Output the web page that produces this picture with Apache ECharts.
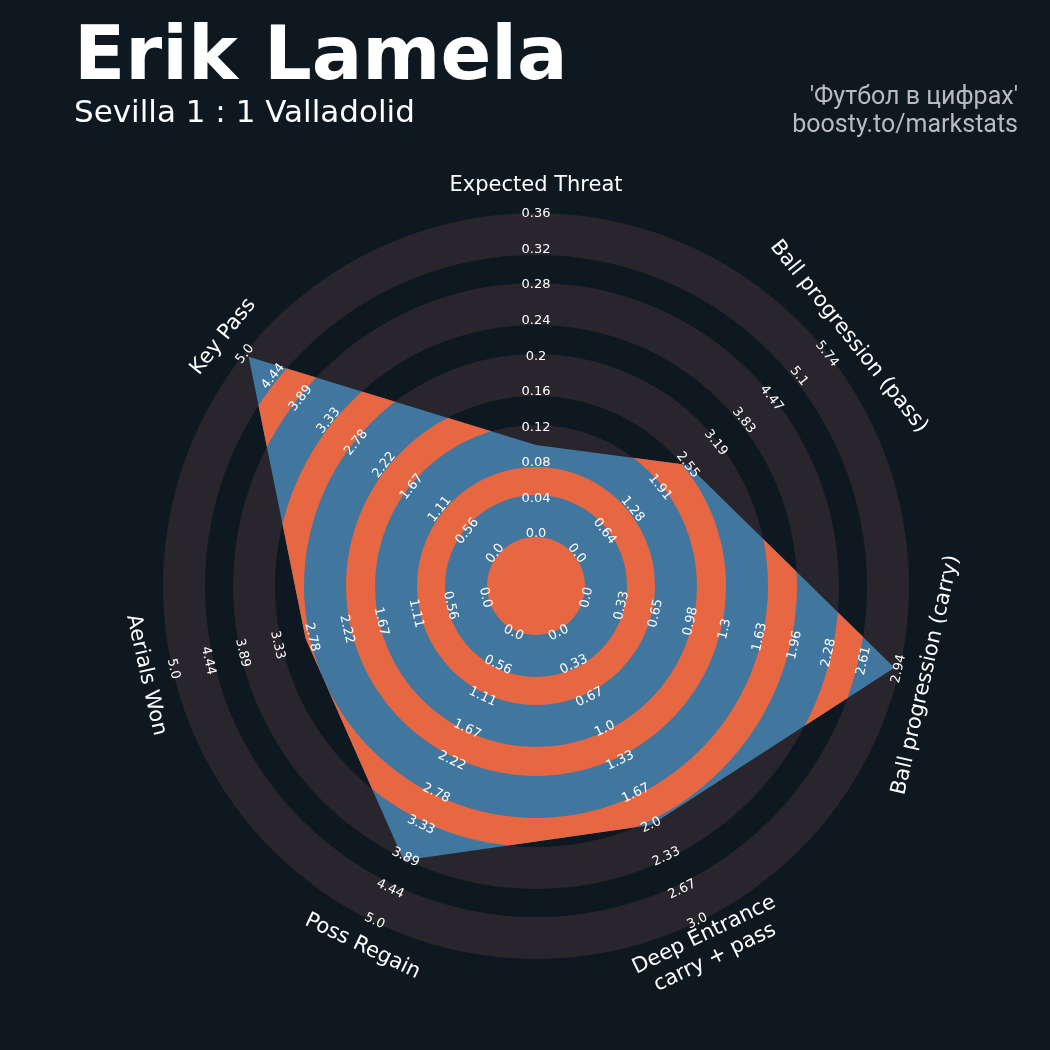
<!DOCTYPE html>
<html>
<head>
<meta charset="utf-8">
<script src="https://cdn.jsdelivr.net/npm/echarts@6/dist/echarts.min.js"></script>
<style>
html,body{margin:0;padding:0;background:#0e1820;}
#main{width:1050px;height:1050px;}
</style>
</head>
<body>
<div id="main"></div>
<script>
// ---- data ----
const playerName = 'Erik Lamela';
const matchText = 'Sevilla 1 : 1 Valladolid';
const creditLines = ["'Футбол в цифрах'", 'boosty.to/markstats'];

const categories = ['Expected Threat', 'Ball progression (pass)', 'Ball progression (carry)',
  'Deep Entrance\ncarry + pass', 'Poss Regain', 'Aerials Won', 'Key Pass'];
const values = [0.10, 2.55, 2.90, 2.0, 3.95, 2.88, 4.93];
const rangeMin = [0, 0, 0, 0, 0, 0, 0];
const rangeMax = [0.36, 5.74, 2.94, 3.0, 5.0, 5.0, 5.0];

const ticksXT = ['0.0', '0.04', '0.08', '0.12', '0.16', '0.2', '0.24', '0.28', '0.32', '0.36'];
const ticksPass = ['0.0', '0.64', '1.28', '1.91', '2.55', '3.19', '3.83', '4.47', '5.1', '5.74'];
const ticksCarry = ['0.0', '0.33', '0.65', '0.98', '1.3', '1.63', '1.96', '2.28', '2.61', '2.94'];
const ticksDeep = ['0.0', '0.33', '0.67', '1.0', '1.33', '1.67', '2.0', '2.33', '2.67', '3.0'];
const ticksPoss = ['0.0', '0.56', '1.11', '1.67', '2.22', '2.78', '3.33', '3.89', '4.44', '5.0'];
const ticksAerial = ['0.0', '0.56', '1.11', '1.67', '2.22', '2.78', '3.33', '3.89', '4.44', '5.0'];
const ticksKey = ['0.0', '0.56', '1.11', '1.67', '2.22', '2.78', '3.33', '3.89', '4.44', '5.0'];
const tickLabels = [ticksXT, ticksPass, ticksCarry, ticksDeep, ticksPoss, ticksAerial, ticksKey];

// ---- styling ----
const BG = '#0e1820', GRAY = '#28252c', BLUE = '#41779f', ORANGE = '#e76742';
const grayRings = [[49, 91], [119, 161], [190, 232], [261, 303], [331, 373]];
const orangeRings = [[0, 49], [91, 119], [161, 190], [232, 261], [303, 331]];

const chart = echarts.init(document.getElementById('main'));

// ECharts lays radar indicators counter-clockwise; reference runs clockwise from top
const order = [0, 6, 5, 4, 3, 2, 1];
const indicator = order.map(i => ({ name: categories[i], min: rangeMin[i], max: rangeMax[i] }));
const radarValues = order.map(i => values[i]);

function cs() { return chart.getModel().getComponent('radar', 0).coordinateSystem; }

function ringEl(a, b, fill) {
  if (a <= 0) return { type: 'circle', shape: { cx: cs().cx, cy: cs().cy, r: b }, style: { fill: fill } };
  return { type: 'ring', shape: { cx: cs().cx, cy: cs().cy, r0: a, r: b }, style: { fill: fill } };
}

const option = {
  backgroundColor: BG,
  animation: false,
  radar: {
    center: [536, 586],
    radius: [52, 372],
    startAngle: 90,
    indicator: indicator,
    axisName: { show: false },
    axisLine: { show: false },
    axisTick: { show: false },
    axisLabel: { show: false },
    splitLine: { show: false },
    splitArea: { show: false }
  },
  graphic: [
    { type: 'text', left: 74, top: 22, style: { text: playerName, fill: '#ffffff', font: 'bold 75px "DejaVu Sans"' } },
    { type: 'text', left: 74, top: 98, style: { text: matchText, fill: '#ffffff', font: '31px "DejaVu Sans"' } },
    { type: 'text', right: 32, top: 85, style: { text: creditLines[0], fill: '#b8bcc0', font: '25px Roboto', align: 'right' } },
    { type: 'text', right: 32, top: 113, style: { text: creditLines[1], fill: '#b8bcc0', font: '25px Roboto', align: 'right' } }
  ],
  series: [
    {
      type: 'custom', coordinateSystem: 'none', z: 1, silent: true, data: [0],
      renderItem: function () {
        return { type: 'group', children: grayRings.map(r => ringEl(r[0], r[1], GRAY)) };
      }
    },
    {
      type: 'radar', z: 2, silent: true, symbol: 'none',
      lineStyle: { width: 0 },
      areaStyle: { color: BLUE, opacity: 1 },
      data: [{ value: radarValues }]
    },
    {
      type: 'custom', coordinateSystem: 'none', z: 3, silent: true, data: [0],
      renderItem: function () {
        const c = cs();
        const pts = radarValues.map((v, k) => c.dataToPoint(v, k));
        return {
          type: 'group',
          clipPath: { type: 'polygon', shape: { points: pts } },
          children: orangeRings.map(r => ringEl(r[0], r[1], ORANGE))
        };
      }
    },
    {
      type: 'custom', coordinateSystem: 'none', z: 4, silent: true, data: [0],
      renderItem: function () {
        const c = cs();
        const axes = c.getIndicatorAxes();
        const children = [];
        order.forEach((ci, k) => {
          const ang = axes[k].angle;
          const rot = Math.sin(ang) >= -1e-6 ? ang - Math.PI / 2 : ang + Math.PI / 2;
          tickLabels[ci].forEach(t => {
            const p = c.dataToPoint(parseFloat(t), k);
            children.push({
              type: 'text', x: p[0], y: p[1], rotation: rot,
              style: { text: t, fill: '#ffffff', fontSize: 13, fontFamily: 'DejaVu Sans', align: 'center', verticalAlign: 'middle' }
            });
          });
          const np = c.coordToPoint(400, k);
          children.push({
            type: 'text', x: np[0], y: np[1], rotation: rot,
            style: { text: categories[ci], fill: '#ffffff', fontSize: 21, lineHeight: 25, fontFamily: 'DejaVu Sans', align: 'center', verticalAlign: 'middle' }
          });
        });
        return { type: 'group', children: children };
      }
    }
  ]
};
chart.setOption(option);
</script>
</body>
</html>
